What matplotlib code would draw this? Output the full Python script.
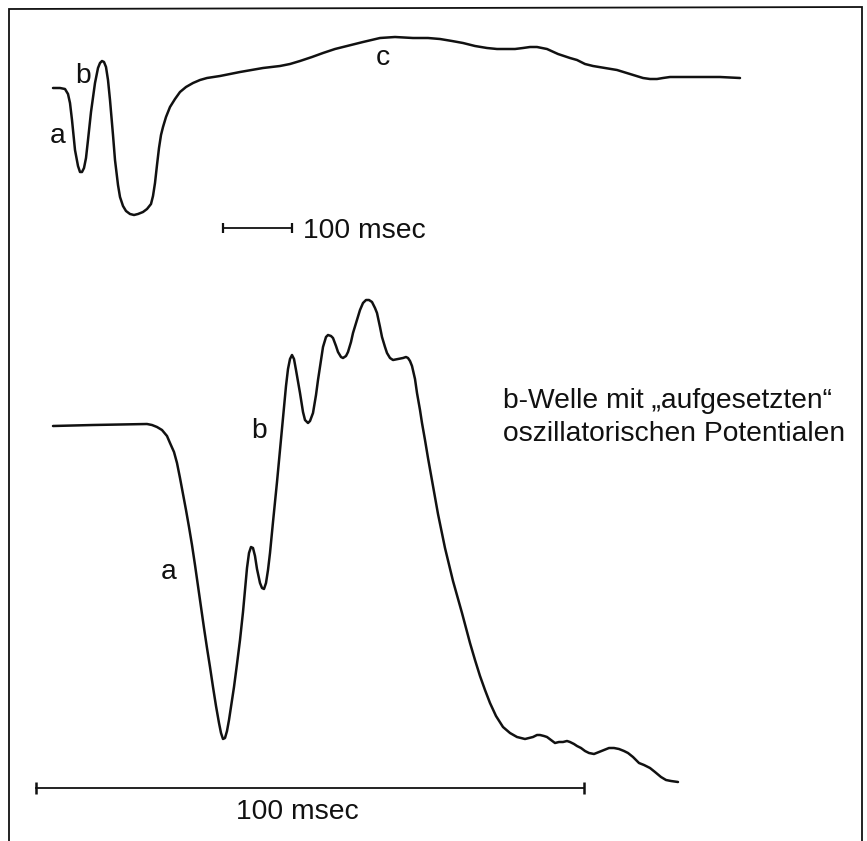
import numpy as np
import matplotlib
matplotlib.use("Agg")
import matplotlib.pyplot as plt

plt.rcParams['font.family'] = ['Liberation Sans', 'DejaVu Sans']

# traced ERG curves, in page units (x to the right, y downwards)
top_x = [53, 60, 65, 68, 70, 72, 75, 78, 80, 82, 84, 86, 88, 91, 95, 98, 100, 102, 104, 106,
         108, 110, 113, 115, 118, 120, 123, 126, 130, 134, 138, 143, 147, 151, 153, 155, 157, 159,
         161, 163, 166, 170, 175, 180, 186, 193, 200, 207, 220, 240, 263, 280, 290, 300, 312, 323,
         335, 347, 363, 380, 395, 413, 428, 440, 452, 463, 475, 487, 497, 507, 515, 523, 530, 537,
         542, 547, 558, 570, 577, 585, 593, 605, 617, 630, 643, 650, 657, 663, 670, 693, 720, 740]
top_y = [88, 88, 89, 94, 103, 120, 150, 166, 172, 172, 168, 158, 140, 112, 83, 68, 63, 61, 62, 67,
         80, 100, 135, 160, 185, 197, 206, 211, 214, 215, 214, 212, 209, 204, 196, 183, 165, 148,
         135, 127, 117, 107, 99, 92, 87, 83, 80, 78, 76, 72, 68, 66, 64, 61, 57, 53,
         49, 46, 42, 38, 37, 38, 38, 39, 41, 43, 46, 48, 49, 49, 49, 48, 47, 47,
         48, 49, 54, 58, 60, 64, 66, 68, 70, 74, 78, 79, 79, 78, 77, 77, 77, 78]

bottom_x = [53, 93, 147, 152, 157, 162, 167, 170, 174, 177, 180, 183, 186, 189, 192, 195, 198, 201,
            204, 207, 210, 213, 216, 219, 221, 223, 225, 227, 229, 231, 234, 237, 240, 243, 245, 247,
            249, 251, 253, 255, 257, 260, 262, 264, 266, 268, 270, 273, 277, 280, 283, 286, 288, 290,
            292, 294, 296, 300, 303, 305, 308, 310, 313, 316, 318, 321, 323, 326, 328, 331, 333, 336,
            338, 341, 343, 346, 348, 351, 353, 357, 360, 363, 366, 369, 372, 375, 377, 380, 382, 385,
            387, 390, 393, 398, 403, 406, 408, 410, 412, 415, 417, 420, 422, 425, 428, 433, 438, 445,
            453, 462, 470, 475, 480, 485, 490, 496, 503, 510, 517, 521, 525, 529, 533, 537,
            540, 544, 547, 551, 555, 559, 563, 567, 570, 574, 577, 581, 585, 589, 594, 599, 604, 609,
            614, 619, 624, 628, 633, 639, 644, 650, 655, 661, 666, 671, 678]
bottom_y = [426, 425, 424, 425, 427, 430, 436, 443, 452, 463, 478, 494, 510, 527, 545, 565, 586, 607,
            628, 648, 667, 687, 706, 723, 733, 739, 738, 731, 720, 707, 687, 664, 640, 612, 590, 568,
            553, 547, 548, 556, 569, 583, 588, 589, 583, 570, 553, 522, 482, 450, 418, 386, 369, 359,
            355, 359, 370, 393, 412, 420, 423, 421, 413, 395, 380, 360, 347, 337, 335, 336, 338, 346,
            352, 357, 358, 356, 352, 342, 333, 320, 310, 303, 300, 300, 302, 308, 313, 327, 337, 347,
            353, 358, 360, 359, 358, 357, 358, 361, 366, 379, 393, 410, 423, 440, 458, 486, 514, 548,
            581, 613, 643, 660, 676, 690, 703, 716, 727, 733, 737, 738, 739, 738, 737, 735,
            735, 736, 737, 740, 743, 742, 742, 741, 742, 744, 746, 748, 751, 753, 754, 752, 750, 748,
            748, 749, 751, 753, 757, 763, 765, 768, 772, 777, 780, 781, 782]

# scale bars (100 msec each)
top_bar_x = [223, 292]
top_bar_y = 228
bottom_bar_x = [36, 584]
bottom_bar_y = 788

fig = plt.figure(figsize=(8.67, 8.41), dpi=100)
ax = fig.add_axes([0, 0, 1, 1])
ax.set_xlim(0, 867)
ax.set_ylim(841, 0)
ax.axis('off')

ink = '#111111'

# frame (bottom edge is cut off in the original)
ax.plot([9, 9, 862, 862], [841, 9, 7, 841], color=ink, lw=1.3, solid_joinstyle='miter')

ax.plot(top_x, top_y, color=ink, lw=1.8, solid_joinstyle='round', solid_capstyle='round')
ax.plot(bottom_x, bottom_y, color=ink, lw=1.8, solid_joinstyle='round', solid_capstyle='round')

ax.plot(top_bar_x, [top_bar_y] * 2, color=ink, lw=1.3, marker='|', ms=7, mew=1.6)
ax.plot(bottom_bar_x, [bottom_bar_y] * 2, color=ink, lw=1.3, marker='|', ms=8, mew=1.8)

fs = 20.3
ax.text(303, 238, '100 msec', fontsize=fs, color=ink, ha='left', va='baseline')
ax.text(236, 819, '100 msec', fontsize=fs, color=ink, ha='left', va='baseline')

# wave labels
ax.text(58, 143, 'a', fontsize=fs, color=ink, ha='center', va='baseline')
ax.text(83, 83, 'b', fontsize=fs, color=ink, ha='center', va='baseline')
ax.text(383, 65, 'c', fontsize=fs, color=ink, ha='center', va='baseline')
ax.text(169, 579, 'a', fontsize=fs, color=ink, ha='center', va='baseline')
ax.text(259, 438, 'b', fontsize=fs, color=ink, ha='center', va='baseline')

ax.text(503, 408, 'b-Welle mit \u201eaufgesetzten\u201c', fontsize=fs, color=ink,
        ha='left', va='baseline')
ax.text(503, 441, 'oszillatorischen Potentialen', fontsize=fs, color=ink,
        ha='left', va='baseline')

fig.savefig('out.png', dpi=100)
